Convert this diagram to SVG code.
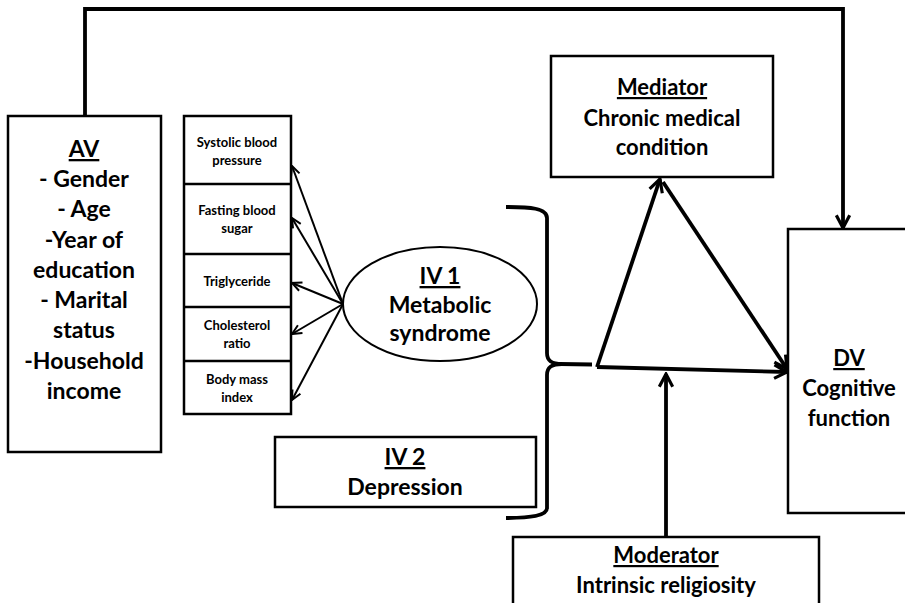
<svg xmlns="http://www.w3.org/2000/svg" width="905" height="603" viewBox="0 0 905 603">
<defs>
<style>
.box{fill:#fff;stroke:#000;stroke-width:2.5}
.t{font-family:Lato,"Liberation Sans",sans-serif;font-weight:bold;fill:#000;text-anchor:middle}
.big{font-size:23px}
.med{font-size:22px}
.sm{font-size:13px}
.u{text-decoration:underline}
.thick{fill:none;stroke:#000;stroke-width:3.8}
.thin{fill:none;stroke:#000;stroke-width:2}
</style>
<marker id="ah" viewBox="0 0 14 14" refX="12.5" refY="7" markerWidth="17" markerHeight="17" markerUnits="userSpaceOnUse" orient="auto">
<path d="M2,1.5 L12.5,7 L2,12.5" fill="none" stroke="#000" stroke-width="2.6"/>
</marker>
<marker id="ahs" viewBox="0 0 12 12" refX="11" refY="6" markerWidth="12" markerHeight="12" markerUnits="userSpaceOnUse" orient="auto">
<path d="M1.5,1.5 L11,6 L1.5,10.5" fill="none" stroke="#000" stroke-width="2"/>
</marker>
</defs>
<rect width="905" height="603" fill="#fff"/>

<g id="connectors">
<path class="thick" d="M85,116 V9 H843 V228" marker-end="url(#ah)"/>
<line class="thin" x1="343" y1="304" x2="292" y2="166" marker-end="url(#ahs)"/>
<line class="thin" x1="343" y1="304" x2="292" y2="218" marker-end="url(#ahs)"/>
<line class="thin" x1="343" y1="304" x2="292" y2="283" marker-end="url(#ahs)"/>
<line class="thin" x1="343" y1="304" x2="292" y2="334" marker-end="url(#ahs)"/>
<line class="thin" x1="343" y1="304" x2="292" y2="400" marker-end="url(#ahs)"/>
<path class="thick" d="M506,207 C530,207 547,208 547,218 L547,353 C547,361 552,364 562,364 M562,364 C552,364 547,367 547,375 L547,508 C547,516 530,518 506,518"/>
<line class="thick" x1="560" y1="364" x2="592" y2="364.5"/>
<line class="thick" x1="597" y1="367" x2="660" y2="179" marker-end="url(#ah)"/>
<line class="thick" x1="663" y1="182" x2="787" y2="369" marker-end="url(#ah)"/>
<line class="thick" x1="597" y1="367" x2="787" y2="372" marker-end="url(#ah)"/>
<line class="thick" x1="666" y1="537" x2="666" y2="374" marker-end="url(#ah)"/>
</g>

<g id="av">
<rect class="box" x="8" y="116" width="153" height="336"/>
<text class="t big" x="84"><tspan class="u" x="84" y="157">AV</tspan><tspan x="84" y="187">- Gender</tspan><tspan x="84" y="217">- Age</tspan><tspan x="84" y="248">-Year of</tspan><tspan x="84" y="278">education</tspan><tspan x="84" y="308">- Marital</tspan><tspan x="84" y="338">status</tspan><tspan x="84" y="369">-Household</tspan><tspan x="84" y="399">income</tspan></text>
</g>

<g id="indicators">
<rect class="box" x="184" y="116" width="107" height="298"/>
<line class="thin" x1="184" y1="184" x2="291" y2="184" style="stroke-width:2.5"/>
<line class="thin" x1="184" y1="254" x2="291" y2="254" style="stroke-width:2.5"/>
<line class="thin" x1="184" y1="307" x2="291" y2="307" style="stroke-width:2.5"/>
<line class="thin" x1="184" y1="361" x2="291" y2="361" style="stroke-width:2.5"/>
<text class="t sm"><tspan x="237" y="147">Systolic blood</tspan><tspan x="237" y="165">pressure</tspan></text>
<text class="t sm"><tspan x="237" y="215">Fasting blood</tspan><tspan x="237" y="233">sugar</tspan></text>
<text class="t sm"><tspan x="237" y="286">Triglyceride</tspan></text>
<text class="t sm"><tspan x="237" y="330">Cholesterol</tspan><tspan x="237" y="348">ratio</tspan></text>
<text class="t sm"><tspan x="237" y="384">Body mass</tspan><tspan x="237" y="402">index</tspan></text>
</g>

<g id="iv1">
<ellipse cx="440" cy="304" rx="97" ry="57" fill="#fff" stroke="#000" stroke-width="2"/>
<text class="t big"><tspan class="u" x="440" y="284">IV 1</tspan><tspan x="440" y="313">Metabolic</tspan><tspan x="440" y="341">syndrome</tspan></text>
</g>

<g id="iv2">
<rect class="box" x="275" y="437" width="261" height="70"/>
<text class="t big"><tspan class="u" x="405" y="465">IV 2</tspan><tspan x="405" y="495">Depression</tspan></text>
</g>

<g id="mediator">
<rect class="box" x="551" y="56" width="222" height="121"/>
<text class="t med"><tspan class="u" x="662" y="95">Mediator</tspan><tspan x="662" y="126">Chronic medical</tspan><tspan x="662" y="155">condition</tspan></text>
</g>

<g id="dv">
<rect class="box" x="788" y="229" width="130" height="284"/>
<text class="t med"><tspan class="u" x="849" y="366">DV</tspan><tspan x="849" y="396">Cognitive</tspan><tspan x="849" y="426">function</tspan></text>
</g>

<g id="moderator">
<rect class="box" x="513" y="537" width="306" height="80"/>
<text class="t med"><tspan class="u" x="666" y="563">Moderator</tspan><tspan x="666" y="593">Intrinsic religiosity</tspan></text>
</g>
</svg>
